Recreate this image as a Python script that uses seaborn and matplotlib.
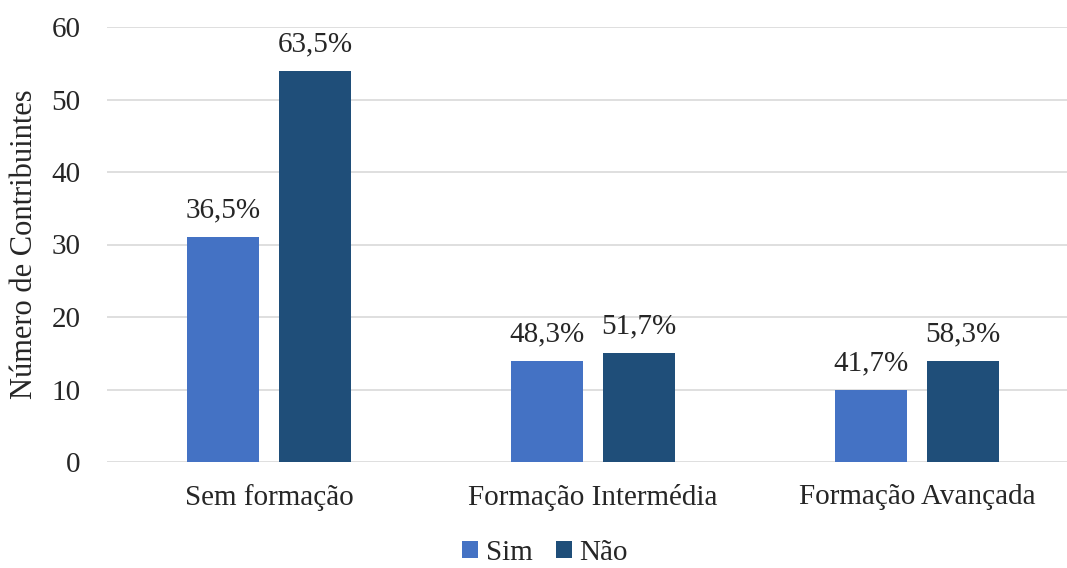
import matplotlib
matplotlib.use("Agg")
import matplotlib.pyplot as plt
import seaborn as sns
import pandas as pd

categories = ["Sem formação", "Formação Intermédia", "Formação Avançada"]
series = ["Sim", "Não"]
sim_values = [31, 14, 10]
nao_values = [54, 15, 14]
sim_labels = ["36,5%", "48,3%", "41,7%"]
nao_labels = ["63,5%", "51,7%", "58,3%"]
y_ticks = [0, 10, 20, 30, 40, 50, 60]

colors = {"Sim": "#4472C4", "Não": "#1F4E79"}

df = pd.DataFrame({
    "categoria": categories * 2,
    "resposta": ["Sim"] * 3 + ["Não"] * 3,
    "valor": sim_values + nao_values,
    "rotulo": sim_labels + nao_labels,
})

sns.set_theme(style="white")
plt.rcParams["font.family"] = ["Liberation Serif", "DejaVu Serif"]
FS = 21
TXT = "#262626"

fig = plt.figure(figsize=(10.67, 5.68), dpi=100)
ax = fig.add_axes([107 / 1067, 1 - 462 / 568, 972 / 1067, (462 - 27) / 568])

sns.barplot(data=df, x="categoria", y="valor", hue="resposta",
            hue_order=series, order=categories, palette=colors,
            width=0.568, gap=0.22, saturation=1, linewidth=0,
            ax=ax, zorder=3)

# Percentage labels above each bar
for container, resp in zip(ax.containers, series):
    labels = df[df["resposta"] == resp]["rotulo"].tolist()
    for bar, lab in zip(container, labels):
        ax.annotate(lab, (bar.get_x() + bar.get_width() / 2, bar.get_height()),
                    xytext=(0, 19), textcoords="offset points",
                    ha="center", va="center", fontsize=FS, color=TXT)

ax.set_xlim(-0.5, 2.5)
ax.set_ylim(0, 60)
ax.set_yticks(y_ticks)
ax.yaxis.grid(True, color="#D9D9D9", linewidth=1.2, zorder=0)
ax.set_axisbelow(True)
for s in ax.spines.values():
    s.set_visible(False)
ax.tick_params(axis="y", labelsize=FS, colors=TXT, pad=19, length=0)
ax.tick_params(axis="x", labelsize=FS, colors=TXT, pad=16, length=0)
ax.set_xlabel("")
ax.set_ylabel("Número de Contribuintes", fontsize=22, color=TXT, labelpad=9)

ax.legend(loc="center", bbox_to_anchor=(545 / 1067, 1 - 553 / 568),
          bbox_transform=fig.transFigure, ncol=2, frameon=False,
          fontsize=FS, handlelength=0.55, handleheight=0.55,
          handletextpad=0.25, columnspacing=0.8, labelcolor=TXT)

fig.savefig("out.png", dpi=100)
